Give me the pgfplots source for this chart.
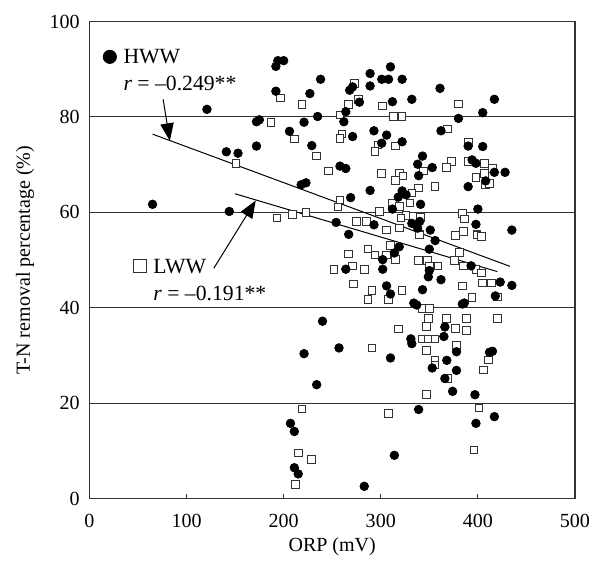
\documentclass[border=0pt,12pt]{standalone}
\usepackage{fontspec}
\setmainfont{Liberation Serif}
\usepackage{pgfplots}
\usepackage{pgfplotstable}
\pgfplotsset{compat=1.18}
\usetikzlibrary{arrows.meta}
\definecolor{axisgray}{HTML}{333333}

% ORP (mV) vs T-N removal (%)
\pgfplotstableread{
orp tn
65 61.7
121 81.6
141 72.7
153 72.4
144 60.2
172 79.0
175 79.4
172 73.9
192 90.6
194 91.8
200 91.8
192 85.4
206 77.0
238 87.9
227 84.9
221 78.9
235 80.1
229 74.0
218 65.8
223 66.2
268 85.6
271 86.3
289 89.1
289 86.5
310 90.5
301 87.9
308 87.9
322 87.9
361 86.0
278 83.1
312 83.2
332 83.7
264 81.1
262 79.0
380 79.7
271 75.9
293 77.1
306 76.2
301 74.5
322 74.8
362 77.1
390 73.9
343 71.8
338 70.1
353 69.4
394 71.0
398 70.3
258 69.7
264 69.2
339 67.7
390 65.4
269 63.1
289 64.6
322 64.5
326 63.7
318 63.2
341 61.7
400 60.7
312 60.7
254 57.9
293 57.4
267 55.4
332 57.7
338 56.7
340 58.1
351 56.3
356 54.1
398 57.5
319 52.8
350 52.3
314 51.5
302 50.1
302 48.1
264 48.1
350 47.8
349 46.5
362 45.9
393 48.8
306 44.6
310 42.9
343 43.8
334 41.0
337 40.6
384 40.8
240 37.2
366 36.0
365 34.0
331 33.5
332 32.5
257 31.6
221 30.4
310 29.5
378 30.8
368 29.0
353 27.4
378 26.9
366 25.2
374 22.5
397 21.8
234 23.9
339 18.7
207 15.8
211 14.1
314 9.1
211 6.5
215 5.2
283 2.6
417 17.2
398 15.8
417 83.7
405 80.9
405 73.8
417 68.4
428 68.4
408 66.6
435 56.3
423 45.4
435 44.7
418 42.5
386 41.0
415 30.9
412 30.7
}\hww

\pgfplotstableread{
orp tn
151 70.3
197 84.0
187 78.8
193 58.8
209 59.5
223 60.0
273 87.0
219 82.6
267 82.6
277 83.7
302 82.3
380 82.7
258 80.4
313 80.1
322 80.1
211 75.4
234 71.8
260 76.4
258 75.5
297 74.1
294 72.7
315 73.9
369 77.5
390 74.6
344 68.7
373 70.6
368 69.4
390 70.6
246 68.7
301 68.1
319 68.2
323 67.6
315 66.7
339 65.1
356 65.4
398 67.3
332 64.1
330 62.0
312 61.8
319 61.2
258 62.6
256 61.1
384 59.8
299 60.2
275 58.1
285 58.1
326 59.3
321 58.8
319 56.7
306 56.3
341 59.0
340 55.3
377 55.1
385 56.0
386 58.6
399 55.3
310 53.0
306 51.1
315 50.2
287 52.3
294 51.1
267 51.3
271 48.8
252 48.1
283 48.1
339 49.9
348 49.9
350 48.8
359 48.8
376 49.9
381 51.6
385 48.8
398 48.0
272 45.0
291 43.6
287 41.7
308 41.7
322 43.6
343 39.8
350 39.8
384 44.6
394 42.1
318 35.6
349 37.7
347 36.1
368 37.7
388 37.7
377 35.7
388 35.3
343 33.5
349 33.5
356 33.5
347 31.1
291 31.6
378 32.1
356 29.1
356 28.0
369 25.2
347 21.8
219 18.8
308 17.8
215 9.6
229 8.2
212 3.0
401 19.0
396 10.2
407 70.3
415 69.2
407 68.2
408 65.8
412 66.1
404 54.9
404 47.3
405 45.2
414 45.2
420 42.3
420 37.7
411 29.1
406 27.0
}\lww

\begin{document}
\begin{tikzpicture}
\begin{axis}[
  scale only axis,width=291pt,height=286pt,
  xmin=0,xmax=500,ymin=0,ymax=100,
  xtick={0,100,...,500},ytick={0,20,...,100},
  tick align=inside,xtick pos=bottom,ytick pos=left,
  major tick length=3pt,
  /pgf/number format/assume math mode=true,
  axis line style={draw=axisgray,line width=0.9pt},
  tick style={draw=axisgray,line width=0.6pt},
  ymajorgrids,grid style={draw=axisgray,line width=0.6pt},
  xticklabel style={yshift=-5pt},
  yticklabel style={xshift=-1.7pt},
  xlabel={ORP (mV)},
  ylabel={T-N removal percentage (\%)},
  xlabel style={at={(axis description cs:0.5,-0.101)},anchor=center},
  ylabel style={at={(axis description cs:-0.1326,0.5)},anchor=center},
  clip=false,
]
\addplot[black,line width=0.6pt] coordinates {(65,76.4) (433,48.7)};
\addplot[black,line width=0.6pt] coordinates {(150,63.9) (420,47.6)};
\addplot[only marks,mark=square*,mark size=2.3pt,
  mark options={draw=axisgray,fill=white,line width=0.6pt}] table {\lww};
\addplot[only marks,mark=*,mark size=2.6pt,
  mark options={draw=black,fill=black}] table {\hww};
% key markers
\addplot[only marks,mark=*,mark size=4pt,
  mark options={fill=black}] coordinates {(21,92.6)};
\addplot[only marks,mark=square*,mark size=3.8pt,
  mark options={draw=axisgray,fill=white,line width=0.6pt}] coordinates {(52,48.7)};
\begin{scope}[font=\fontsize{13}{15}\selectfont]
\node[anchor=west,inner sep=0pt] at (axis cs:34.8,92.6) {HWW};
\node[anchor=west,inner sep=0pt] at (axis cs:34.8,87.0) {\itshape r\upshape\ = –0.249**};
\node[anchor=west,inner sep=0pt] at (axis cs:65.6,48.7) {LWW};
\node[anchor=west,inner sep=0pt] at (axis cs:65.6,43.1) {\itshape r\upshape\ = –0.191**};
\end{scope}
\draw[line width=0.6pt,-{Triangle[length=10.5pt,width=8pt]}]
  (axis cs:75.9,83.7) -- (axis cs:82.8,75.0);
\draw[line width=0.6pt,-{Triangle[length=10.5pt,width=8pt]}]
  (axis cs:128.1,48.3) -- (axis cs:171.3,62.5);
\end{axis}
\pgfresetboundingbox
\path ([shift={(-53.6pt,-38.3pt)}]current axis.south west)
  rectangle ([shift={(11.4pt,12.9pt)}]current axis.north east);
\end{tikzpicture}
\end{document}
